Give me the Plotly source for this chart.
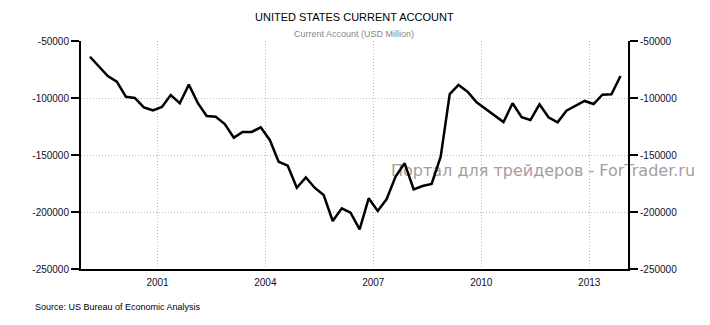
import plotly.graph_objects as go
import pandas as pd

quarters = [f"{y}-{m:02d}-15" for y in range(1999, 2014) for m in (2, 5, 8, 11)]
current_account = [
    -63800, -71700, -80700, -85700, -98900, -100000, -108200, -110800,
    -107900, -97400, -104600, -88300, -104600, -115800, -116400, -122800,
    -134800, -129800, -129800, -125700, -136800, -155900, -159400, -178700,
    -169600, -178700, -185100, -207900, -196800, -200600, -215200, -188000,
    -199100, -188900, -169000, -157300, -180100, -177200, -175400, -151500,
    -96500, -88600, -94400, -103800, -109600, -115500, -121100, -104600,
    -116900, -119300, -105500, -116900, -121300, -111100, -107000, -102600,
    -105300, -97100, -96800, -80700,
]
x_ticks = ["2001-01-01", "2004-01-01", "2007-01-01", "2010-01-01", "2013-01-01"]
x_tick_labels = ["2001", "2004", "2007", "2010", "2013"]
y_ticks = [-50000, -100000, -150000, -200000, -250000]

X_RANGE = ["1998-11-16", "2014-01-30"]
Y_RANGE = [-250000, -50000]
L, R, T, B, W, H = 81, 82, 41, 56, 710, 325
pw, ph = W - L - R, H - T - B

# watermark placed beneath the line: anchor pixel -> data coordinates
x0, x1 = pd.Timestamp(X_RANGE[0]), pd.Timestamp(X_RANGE[1])
wm_x = (x0 + (x1 - x0) * ((391 - L) / pw)).strftime("%Y-%m-%d %H:%M")
wm_y = Y_RANGE[1] - (172 - T) / ph * (Y_RANGE[1] - Y_RANGE[0])

font_family = "Liberation Sans, Arial, sans-serif"
tick_font = dict(family=font_family, size=10, color="#10102a")
grid = dict(showgrid=True, gridcolor="#bdbdbd", griddash="1px,2px", gridwidth=1)

fig = go.Figure()
fig.add_trace(go.Scatter(x=[wm_x], y=[wm_y], mode="text",
                         text=["Портал для трейдеров - ForTrader.ru"], textposition="middle right",
                         textfont=dict(family="DejaVu Sans, sans-serif", size=16, color="#a89c9c"),
                         cliponaxis=False, hoverinfo="skip"))
fig.add_trace(go.Scatter(x=quarters, y=current_account, mode="lines",
                         line=dict(color="#000000", width=2.5), hoverinfo="skip"))
fig.add_trace(go.Scatter(x=quarters, y=current_account, mode="lines", yaxis="y2",
                         line=dict(color="rgba(0,0,0,0)", width=0), hoverinfo="skip"))

fig.update_layout(
    width=W, height=H,
    margin=dict(l=L, r=R, t=T, b=B),
    paper_bgcolor="white", plot_bgcolor="white",
    showlegend=False,
    xaxis=dict(
        type="date", range=X_RANGE,
        tickvals=x_ticks, ticktext=x_tick_labels, **grid,
        showline=True, linecolor="#000", linewidth=2,
        ticks="outside", ticklen=3, tickcolor="rgba(0,0,0,0)",
        tickfont=tick_font, zeroline=False,
    ),
    yaxis=dict(
        range=Y_RANGE, tickvals=y_ticks,
        ticktext=[str(v) for v in y_ticks], **grid,
        showline=True, linecolor="#000", linewidth=2,
        ticks="outside", ticklen=8, tickcolor="#000", tickwidth=1.5,
        tickfont=tick_font, zeroline=False,
    ),
    yaxis2=dict(
        range=Y_RANGE, tickvals=y_ticks,
        ticktext=[str(v) for v in y_ticks],
        overlaying="y", side="right", showgrid=False,
        showline=True, linecolor="#000", linewidth=2,
        ticks="outside", ticklen=8, tickcolor="#000", tickwidth=1.5,
        tickfont=tick_font, zeroline=False,
    ),
    annotations=[
        dict(text="UNITED STATES CURRENT ACCOUNT", x=354, y=H - 17,
             xanchor="center", font=dict(family=font_family, size=11, color="#000")),
        dict(text="Current Account (USD Million)", x=354, y=H - 34,
             xanchor="center", font=dict(family=font_family, size=9, color="#888888")),
        dict(text="Source: US Bureau of Economic Analysis", x=33, y=H - 307,
             xanchor="left", font=dict(family=font_family, size=9, color="#000")),
    ],
)

# convert pixel annotation positions to paper coordinates
for a in fig.layout.annotations:
    a.x = (a.x - L) / pw
    a.y = (a.y - B) / ph
    a.xref = "paper"
    a.yref = "paper"
    a.yanchor = "middle"
    a.showarrow = False

fig.write_html("out.html")
